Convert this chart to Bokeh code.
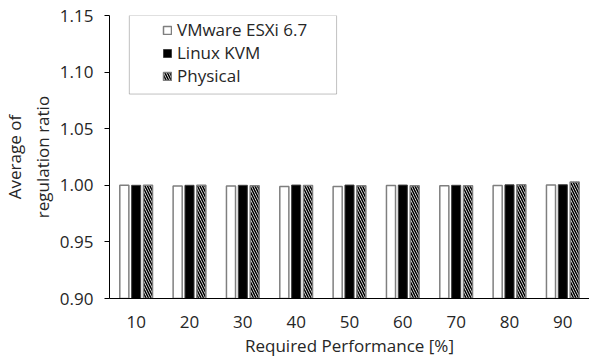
from bokeh.plotting import figure
from bokeh.models import FactorRange, Range1d, Legend, LegendItem, BoxAnnotation, FixedTicker, ColumnDataSource, CustomJSTickFormatter
from bokeh.transform import dodge
from bokeh.embed import file_html
from bokeh.resources import INLINE

categories = ["10", "20", "30", "40", "50", "60", "70", "80", "90"]
vmware = [1.0000, 0.9994, 0.9994, 0.9990, 0.9990, 0.9998, 0.9997, 0.9998, 1.0002]
kvm = [1.0000, 1.0000, 1.0000, 1.0002, 1.0002, 1.0002, 1.0000, 1.0004, 1.0005]
physical = [1.0000, 1.0000, 0.9997, 0.9998, 0.9997, 0.9997, 0.9997, 1.0004, 1.0030]
series_names = ["VMware ESXi 6.7", "Linux KVM", "Physical"]
y_ticks = [0.90, 0.95, 1.00, 1.05, 1.10, 1.15]

FONT = "Open Sans"
FS = "17px"
TXT = "#262626"

src = ColumnDataSource(dict(cat=categories, vmware=vmware, kvm=kvm, physical=physical))

p = figure(width=589, height=359, output_backend="svg", toolbar_location=None,
           x_range=FactorRange(*categories), y_range=Range1d(0.90, 1.15),
           min_border_left=105, min_border_right=0, min_border_top=15, min_border_bottom=56)
p.outline_line_color = None
p.grid.grid_line_color = None
p.background_fill_color = "white"
p.border_fill_color = "white"

base = p.y_range.start
w = 0.17
r1 = p.vbar(x=dodge("cat", -0.222, range=p.x_range), top="vmware", bottom=base, width=w, source=src,
            fill_color="white", line_color="#7f7f7f", line_width=1.5)
r2 = p.vbar(x=dodge("cat", 0.0, range=p.x_range), top="kvm", bottom=base, width=w, source=src,
            fill_color="black", line_color="#404040", line_width=1.0)
r3 = p.vbar(x=dodge("cat", 0.222, range=p.x_range), top="physical", bottom=base, width=w, source=src,
            fill_color="white", line_color="#7f7f7f", line_width=1.5,
            hatch_pattern="left_diagonal_line", hatch_color="black", hatch_scale=5, hatch_weight=1.6)

# Axes
p.yaxis.ticker = FixedTicker(ticks=y_ticks)
p.yaxis.formatter = CustomJSTickFormatter(code="return tick.toFixed(2);")
p.yaxis.minor_tick_line_color = None
p.yaxis.major_tick_in = 0
p.yaxis.major_tick_out = 5
p.yaxis.axis_line_color = "black"
p.yaxis.major_tick_line_color = "black"
p.yaxis.major_label_text_font = FONT
p.yaxis.major_label_text_font_size = FS
p.yaxis.major_label_text_color = TXT
p.yaxis.major_label_standoff = 11
p.yaxis.axis_label = "Average of\nregulation ratio"
p.yaxis.axis_label_text_font = FONT
p.yaxis.axis_label_text_font_size = FS
p.yaxis.axis_label_text_font_style = "normal"
p.yaxis.axis_label_text_color = TXT
p.yaxis.axis_label_standoff = 3

p.xaxis.major_tick_line_color = None
p.xaxis.minor_tick_line_color = None
p.xaxis.major_tick_in = 0
p.xaxis.major_tick_out = 0
p.xaxis.axis_line_color = "black"
p.xaxis.major_label_text_font = FONT
p.xaxis.major_label_text_font_size = FS
p.xaxis.major_label_text_color = TXT
p.xaxis.major_label_standoff = 17
p.xaxis.axis_label = "Required Performance [%]"
p.xaxis.axis_label_text_font = FONT
p.xaxis.axis_label_text_font_size = FS
p.xaxis.axis_label_text_font_style = "normal"
p.xaxis.axis_label_text_color = TXT
p.xaxis.axis_label_standoff = 3

# Legend box border
box = BoxAnnotation(left=0.372, right=4.258, top=1.15, bottom=1.0806,
                    fill_alpha=0, line_color="#333333", line_width=1)
p.add_layout(box)

legend = Legend(items=[LegendItem(label=series_names[0], renderers=[r1]),
                       LegendItem(label=series_names[1], renderers=[r2]),
                       LegendItem(label=series_names[2], renderers=[r3])],
                location=(53, 211), padding=0, margin=0, spacing=0,
                glyph_width=10, glyph_height=10, label_height=20, label_standoff=5,
                border_line_alpha=0, background_fill_alpha=0,
                label_text_font=FONT, label_text_font_size=FS, label_text_color=TXT)
p.add_layout(legend)

open("out.html", "w").write(file_html(p, INLINE))
